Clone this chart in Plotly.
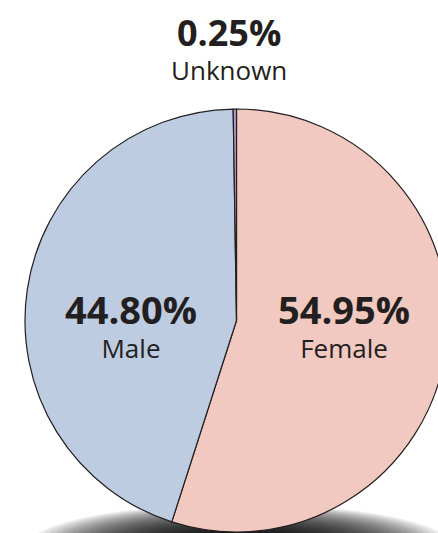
import plotly.graph_objects as go

# ---- data ----
labels = ["Female", "Male", "Unknown"]
values = [54.95, 44.80, 0.25]
colors = ["#F1C9C0", "#BECCE2", "#B49AC4"]

W, H = 449, 533
cx, cy, r = 236.5, 320.5, 211.5

fig = go.Figure()
fig.add_trace(go.Pie(
    labels=labels, values=values, sort=False, direction="clockwise", rotation=0,
    marker=dict(colors=colors, line=dict(color="#231F20", width=1.2)),
    textinfo="none", hoverinfo="label+percent", showlegend=False,
    domain=dict(x=[(cx - r) / W, min(1.0, (cx + r) / W)],
                y=[max(0.0, (H - cy - r) / H), min(1.0, (H - cy + r) / H)]),
))

# soft shadow under the pie (stacked translucent ellipses)
scx, scy = 240.0, 546.0
n = 30
for i in range(n):
    s = 1.0 - i * 0.025
    rx, ry = 212 * s, 42 * s
    fig.add_shape(type="circle", xref="paper", yref="paper", layer="below",
                  x0=(scx - rx) / W, x1=(scx + rx) / W,
                  y0=(H - scy - ry) / H, y1=(H - scy + ry) / H,
                  fillcolor="rgba(0,0,0,0.07)", line=dict(width=0))

font_f = "Open Sans"
txtc = "#231F20"
# annotation centre positions (pixels): x, y
pos = {"Female": (344, 324), "Male": (131, 324), "Unknown": (229, 48)}
nsize = {"Female": 38, "Male": 38, "Unknown": 36}
for lab, val in zip(labels, values):
    x, y = pos[lab]
    fig.add_annotation(
        x=x / W, y=1 - y / H, xref="paper", yref="paper",
        text=f"<span style='font-size:{nsize[lab]}px'><b>{val:.2f}%</b></span><br>{lab}",
        showarrow=False, font=dict(family=font_f, size=26, color=txtc),
        xanchor="center", yanchor="middle", align="center")

fig.update_layout(width=W, height=H, margin=dict(l=0, r=0, t=0, b=0),
                  paper_bgcolor="white", plot_bgcolor="white")
fig.write_html(
    "out.html",
    config={"displayModeBar": False},
    post_script="document.body.style.margin='0';document.body.style.overflow='hidden';",
)
